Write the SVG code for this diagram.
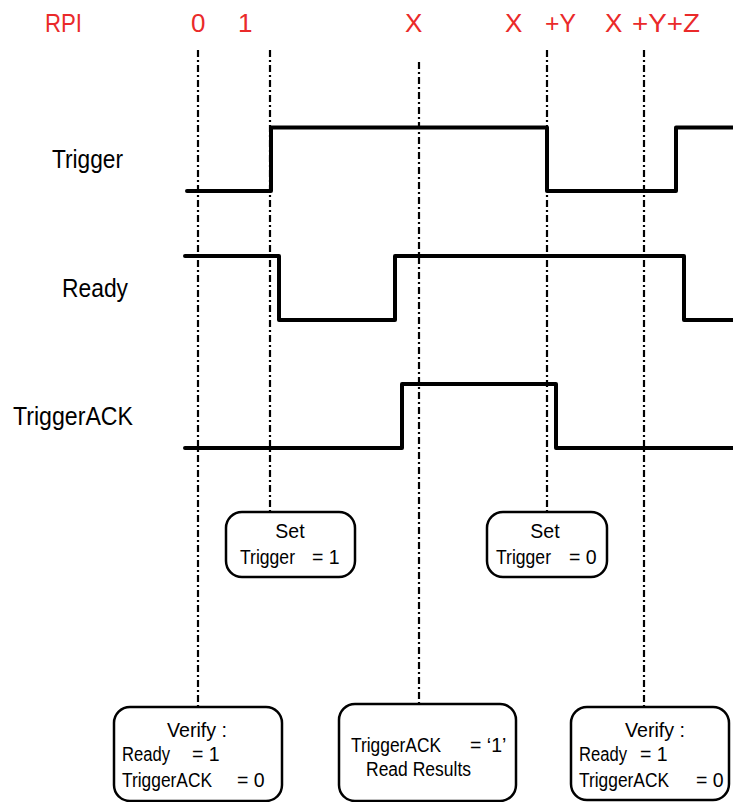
<svg xmlns="http://www.w3.org/2000/svg" width="733" height="802" viewBox="0 0 733 802">
<style>
.lbl{font-family:"Liberation Sans",Arial,sans-serif;font-size:25px;}
.red{fill:#ea2a2a;font-size:26px;}
.bt{font-family:"Liberation Sans",Arial,sans-serif;font-size:19.5px;fill:#000;}
.sig{fill:none;stroke:#000;stroke-width:4;stroke-linejoin:round;stroke-linecap:round;}
.grid{fill:none;stroke:#000;stroke-width:2.2;stroke-dasharray:7 3 2 3;}
.box{fill:#fff;stroke:#000;stroke-width:2.5;}
</style>
<rect width="733" height="802" fill="#fff"/>
<g id="rpi-labels">
<text class="lbl red" x="45" y="32" textLength="37" lengthAdjust="spacingAndGlyphs">RPI</text>
<text class="lbl red" x="191" y="32">0</text>
<text class="lbl red" x="238" y="32">1</text>
<text class="lbl red" x="405" y="32">X</text>
<text class="lbl red" x="505" y="32">X</text>
<text class="lbl red" x="545" y="32" textLength="31" lengthAdjust="spacingAndGlyphs">+Y</text>
<text class="lbl red" x="605" y="32">X</text>
<text class="lbl red" x="632" y="32" textLength="68" lengthAdjust="spacingAndGlyphs">+Y+Z</text>
</g>
<g id="signal-labels">
<text class="lbl" x="52" y="168" textLength="71" lengthAdjust="spacingAndGlyphs">Trigger</text>
<text class="lbl" x="62" y="297" textLength="66" lengthAdjust="spacingAndGlyphs">Ready</text>
<text class="lbl" x="13" y="425" textLength="120" lengthAdjust="spacingAndGlyphs">TriggerACK</text>
</g>
<g id="connectors">
<line class="grid" x1="198" y1="50" x2="198" y2="707"/>
<line class="grid" x1="270" y1="50" x2="270" y2="512"/>
<line class="grid" x1="419" y1="62" x2="419" y2="704"/>
<line class="grid" x1="547" y1="50" x2="547" y2="512"/>
<line class="grid" x1="644" y1="50" x2="644" y2="707"/>
</g>
<g id="trigger">
<path class="sig" d="M187,191 H271 V127.5 H547 V191 H676 V127.5 H735"/>
</g>
<g id="ready">
<path class="sig" d="M185,256 H279 V320 H395 V256 H684 V320 H735"/>
</g>
<g id="triggerack">
<path class="sig" d="M185,448 H402 V384 H556 V448 H735"/>
</g>
<g id="set1">
<rect class="box" x="226" y="512" width="129" height="65" rx="16"/>
<text class="bt" x="290" y="538" text-anchor="middle">Set</text>
<text class="bt" x="240" y="564" textLength="55" lengthAdjust="spacingAndGlyphs">Trigger</text>
<text class="bt" x="312" y="564">= 1</text>
</g>
<g id="set0">
<rect class="box" x="487" y="512" width="120" height="65" rx="16"/>
<text class="bt" x="545" y="538" text-anchor="middle">Set</text>
<text class="bt" x="496" y="564" textLength="55" lengthAdjust="spacingAndGlyphs">Trigger</text>
<text class="bt" x="569" y="564">= 0</text>
</g>
<g id="verify1">
<rect class="box" x="114" y="707" width="168" height="94" rx="16"/>
<text class="bt" x="167" y="737" textLength="60" lengthAdjust="spacingAndGlyphs">Verify  :</text>
<text class="bt" x="122" y="761" textLength="48" lengthAdjust="spacingAndGlyphs">Ready</text>
<text class="bt" x="192" y="761">= 1</text>
<text class="bt" x="122" y="787" textLength="90" lengthAdjust="spacingAndGlyphs">TriggerACK</text>
<text class="bt" x="237" y="787">= 0</text>
</g>
<g id="readresults">
<rect class="box" x="339" y="704" width="177" height="97" rx="16"/>
<text class="bt" x="351" y="752" textLength="90" lengthAdjust="spacingAndGlyphs">TriggerACK</text>
<text class="bt" x="470" y="752">= ‘1’</text>
<text class="bt" x="366" y="776" textLength="105" lengthAdjust="spacingAndGlyphs">Read Results</text>
</g>
<g id="verify2">
<rect class="box" x="571" y="707" width="158" height="93" rx="16"/>
<text class="bt" x="625" y="737" textLength="60" lengthAdjust="spacingAndGlyphs">Verify  :</text>
<text class="bt" x="579" y="761" textLength="48" lengthAdjust="spacingAndGlyphs">Ready</text>
<text class="bt" x="640" y="761">= 1</text>
<text class="bt" x="579" y="787" textLength="90" lengthAdjust="spacingAndGlyphs">TriggerACK</text>
<text class="bt" x="696" y="787">= 0</text>
</g>
</svg>
